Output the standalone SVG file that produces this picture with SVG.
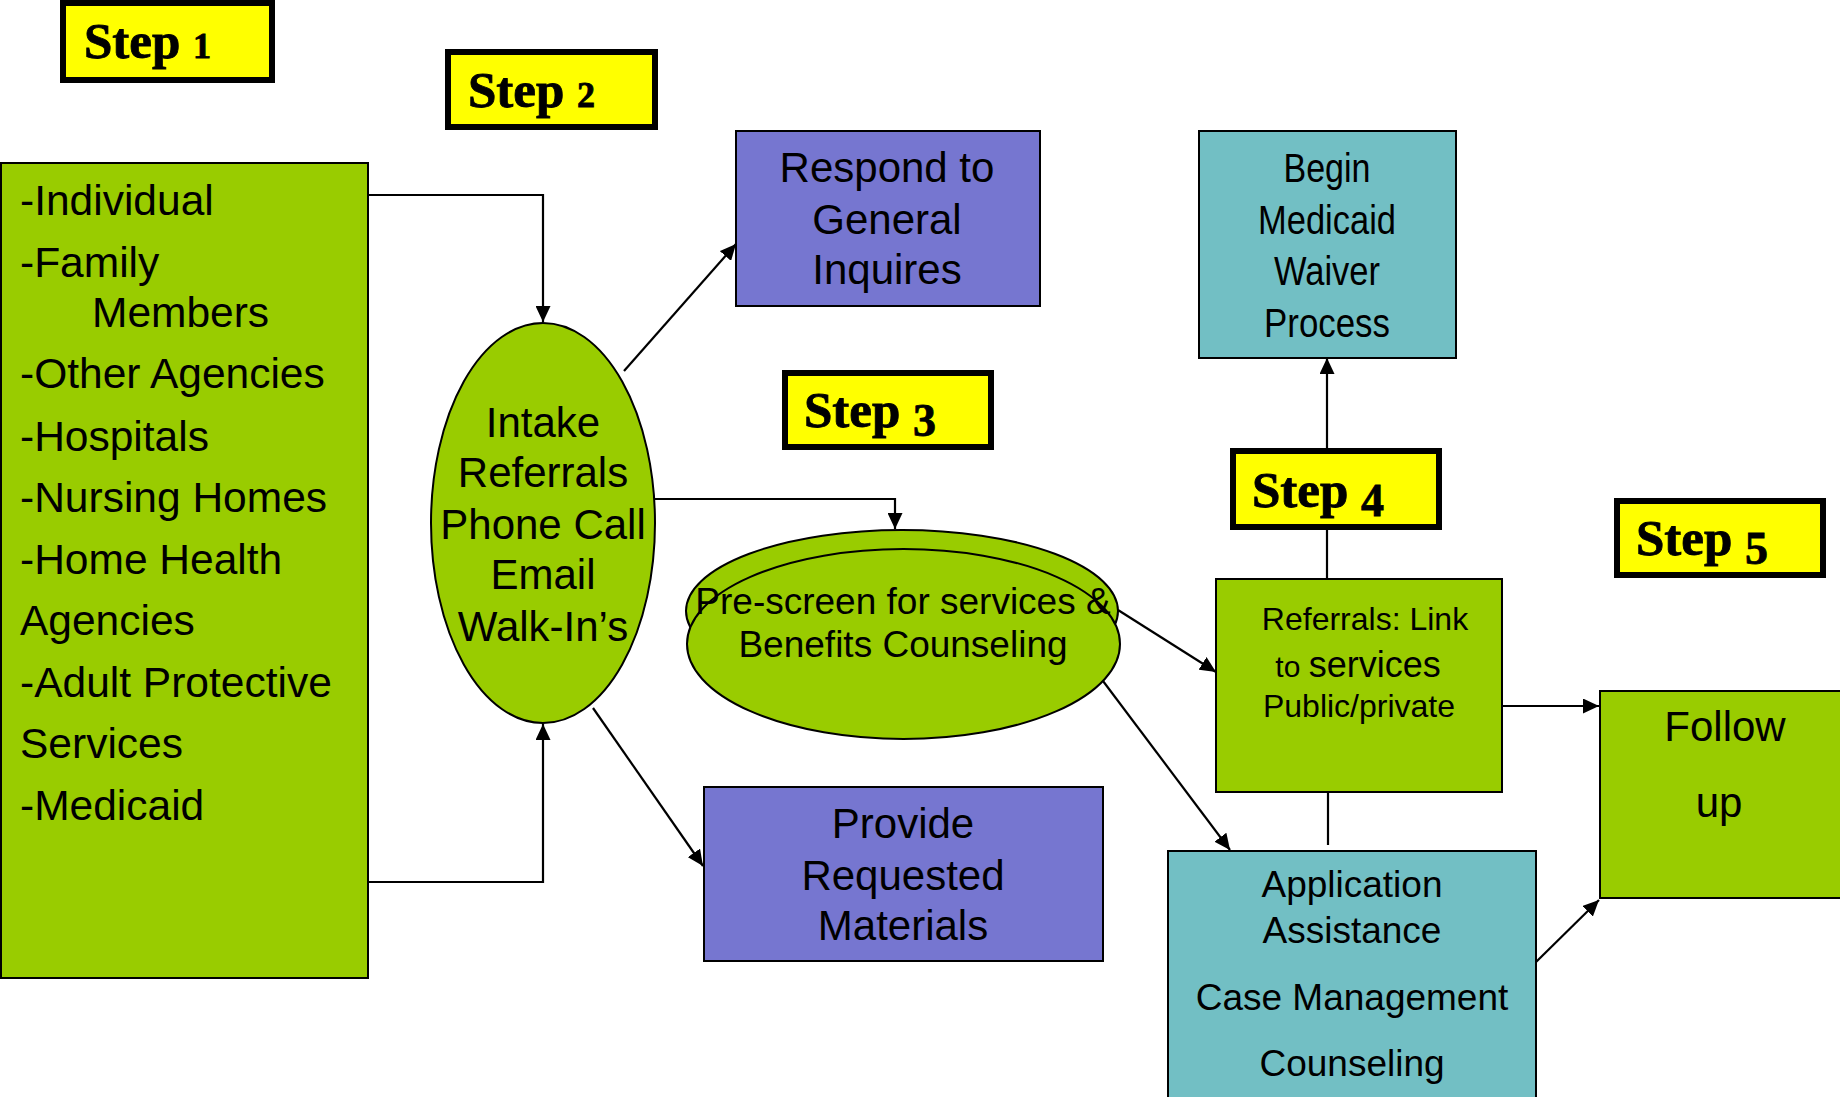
<svg xmlns="http://www.w3.org/2000/svg" width="1840" height="1097" viewBox="0 0 1840 1097">
  <style>
    .bg { fill: #ffffff; }
    .green { fill: #99cc00; stroke: #000; stroke-width: 2; }
    .purple { fill: #7676d0; stroke: #000; stroke-width: 2; }
    .teal { fill: #72bfc4; stroke: #000; stroke-width: 2; }
    .step { fill: #ffff00; stroke: #000; stroke-width: 6; }
    .t { font-family: "Liberation Sans", Arial, sans-serif; fill: #000; }
    .c { text-anchor: middle; }
    .st { font-family: "Liberation Serif", "DejaVu Serif", serif; font-weight: bold; font-size: 51px; fill: #000; stroke: #000; stroke-width: 0.8; }
    .n12 { font-size: 36px; }
    .n345 { font-size: 46px; }
    .wire { fill: none; stroke: #000; stroke-width: 2.2; }
  </style>
  <defs>
    <marker id="arr" viewBox="0 0 16 15" refX="16" refY="7.5" markerWidth="16" markerHeight="15" orient="auto" markerUnits="userSpaceOnUse">
      <path d="M0,0 L16,7.5 L0,15 z" fill="#000"/>
    </marker>
  </defs>

  <rect class="bg" x="0" y="0" width="1840" height="1097"/>

  <!-- connectors -->
  <g id="connectors">
    <polyline class="wire" points="368,195 543,195 543,322" marker-end="url(#arr)"/>
    <polyline class="wire" points="368,882 543,882 543,724" marker-end="url(#arr)"/>
    <line class="wire" x1="624" y1="371" x2="736" y2="244" marker-end="url(#arr)"/>
    <polyline class="wire" points="655,499 895,499 895,529" marker-end="url(#arr)"/>
    <line class="wire" x1="593" y1="708" x2="703" y2="866" marker-end="url(#arr)"/>
    <line class="wire" x1="1118" y1="610" x2="1216" y2="672" marker-end="url(#arr)"/>
    <line class="wire" x1="1103" y1="681" x2="1230" y2="850" marker-end="url(#arr)"/>
    <line class="wire" x1="1327" y1="449" x2="1327" y2="358" marker-end="url(#arr)"/>
    <line class="wire" x1="1327" y1="529" x2="1327" y2="579"/>
    <line class="wire" x1="1328" y1="792" x2="1328" y2="845"/>
    <line class="wire" x1="1502" y1="706" x2="1599" y2="706" marker-end="url(#arr)"/>
    <line class="wire" x1="1536" y1="962" x2="1599" y2="900" marker-end="url(#arr)"/>
  </g>

  <!-- step labels -->
  <g id="step1">
    <rect class="step" x="63" y="3" width="209" height="77"/>
    <text class="st" x="84" y="58">Step <tspan class="n12">1</tspan></text>
  </g>
  <g id="step2">
    <rect class="step" x="448" y="52" width="207" height="75"/>
    <text class="st" x="468" y="107">Step <tspan class="n12">2</tspan></text>
  </g>
  <g id="step3">
    <rect class="step" x="785" y="373" width="206" height="74"/>
    <text class="st" x="804" y="427">Step <tspan class="n345" dy="9">3</tspan></text>
  </g>
  <g id="step4">
    <rect class="step" x="1233" y="451" width="206" height="76"/>
    <text class="st" x="1252" y="507">Step <tspan class="n345" dy="9">4</tspan></text>
  </g>
  <g id="step5">
    <rect class="step" x="1617" y="501" width="206" height="74"/>
    <text class="st" x="1636" y="555">Step <tspan class="n345" dy="9">5</tspan></text>
  </g>

  <!-- referral sources -->
  <g id="sources">
    <rect class="green" x="1" y="163" width="367" height="815"/>
    <g class="t" font-size="42.5">
      <text x="20" y="215">-Individual</text>
      <text x="20" y="277">-Family</text>
      <text x="92" y="327">Members</text>
      <text x="20" y="388">-Other Agencies</text>
      <text x="20" y="451">-Hospitals</text>
      <text x="20" y="512">-Nursing Homes</text>
      <text x="20" y="574">-Home Health</text>
      <text x="20" y="635">Agencies</text>
      <text x="20" y="697">-Adult Protective</text>
      <text x="20" y="758">Services</text>
      <text x="20" y="820">-Medicaid</text>
    </g>
  </g>

  <!-- intake -->
  <g id="intake">
    <ellipse class="green" cx="543" cy="523" rx="112" ry="200"/>
    <g class="t c" font-size="42">
      <text x="543" y="437">Intake</text>
      <text x="543" y="487">Referrals</text>
      <text x="543" y="539">Phone Call</text>
      <text x="543" y="589">Email</text>
      <text x="543" y="641">Walk-In’s</text>
    </g>
  </g>

  <!-- general inquiries -->
  <g id="respond">
    <rect class="purple" x="736" y="131" width="304" height="175"/>
    <g class="t c" font-size="42">
      <text x="887" y="182">Respond to</text>
      <text x="887" y="234">General</text>
      <text x="887" y="284">Inquires</text>
    </g>
  </g>

  <!-- requested materials -->
  <g id="materials">
    <rect class="purple" x="704" y="787" width="399" height="174"/>
    <g class="t c" font-size="42">
      <text x="903" y="838">Provide</text>
      <text x="903" y="890">Requested</text>
      <text x="903" y="940">Materials</text>
    </g>
  </g>

  <!-- pre-screen -->
  <g id="prescreen">
    <ellipse class="green" cx="902" cy="611" rx="216" ry="81"/>
    <ellipse class="green" cx="903.5" cy="644" rx="216.5" ry="95"/>
    <g class="t c" font-size="37">
      <text x="903" y="614">Pre-screen for services &amp;</text>
      <text x="903" y="657">Benefits Counseling</text>
    </g>
  </g>

  <!-- medicaid waiver -->
  <g id="waiver">
    <rect class="teal" x="1199" y="131" width="257" height="227"/>
    <g class="t c" font-size="41">
      <text x="1327" y="182" textLength="87" lengthAdjust="spacingAndGlyphs">Begin</text>
      <text x="1327" y="234" textLength="138" lengthAdjust="spacingAndGlyphs">Medicaid</text>
      <text x="1327" y="285" textLength="106" lengthAdjust="spacingAndGlyphs">Waiver</text>
      <text x="1327" y="337" textLength="126" lengthAdjust="spacingAndGlyphs">Process</text>
    </g>
  </g>

  <!-- referrals -->
  <g id="referrals">
    <rect class="green" x="1216" y="579" width="286" height="213"/>
    <g class="t c" font-size="32">
      <text x="1365" y="630">Referrals: Link</text>
      <text x="1358" y="677"><tspan font-size="30">to </tspan><tspan font-size="36">services</tspan></text>
      <text x="1359" y="717">Public/private</text>
    </g>
  </g>

  <!-- application assistance -->
  <g id="application">
    <rect class="teal" x="1168" y="851" width="368" height="250"/>
    <g class="t c" font-size="37">
      <text x="1352" y="897">Application</text>
      <text x="1352" y="943">Assistance</text>
      <text x="1352" y="1010">Case Management</text>
      <text x="1352" y="1076">Counseling</text>
    </g>
  </g>

  <!-- follow up -->
  <g id="followup">
    <rect class="green" x="1600" y="691" width="245" height="207"/>
    <g class="t c" font-size="42">
      <text x="1725" y="741">Follow</text>
      <text x="1719" y="817">up</text>
    </g>
  </g>
</svg>
